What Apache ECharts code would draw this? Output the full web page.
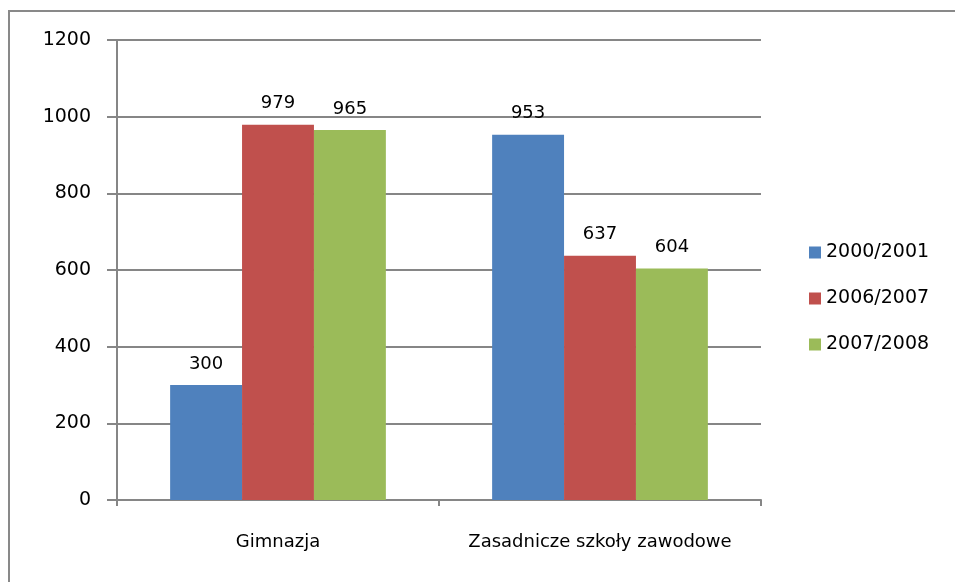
<!DOCTYPE html>
<html>
<head>
<meta charset="utf-8">
<script src="https://cdn.jsdelivr.net/npm/echarts@6/dist/echarts.min.js"></script>
<style>
  html, body { margin: 0; padding: 0; background: #fff; }
  #chart { width: 955px; height: 582px; }
</style>
</head>
<body>
<div id="chart"></div>
<script>
  var categories = ['Gimnazja', 'Zasadnicze szkoły zawodowe'];
  var seriesNames = ['2000/2001', '2006/2007', '2007/2008'];
  var values2000 = [300, 953];
  var values2006 = [979, 637];
  var values2007 = [965, 604];
  var colors = ['#4F81BD', '#C0504D', '#9BBB59'];

  var font = 'DejaVu Sans';
  var chart = echarts.init(document.getElementById('chart'));

  function barSeries(name, data, color) {
    return {
      name: name,
      type: 'bar',
      data: data,
      barGap: '0%',
      barCategoryGap: '33%',
      itemStyle: { color: color },
      label: {
        show: true,
        position: 'top',
        distance: 12,
        color: '#000',
        fontFamily: font,
        fontSize: 18
      }
    };
  }

  chart.setOption({
    animation: false,
    backgroundColor: '#fff',
    graphic: [{
      type: 'rect',
      shape: { x: 9, y: 11, width: 1000, height: 1000 },
      style: { fill: 'none', stroke: '#898989', lineWidth: 2 }
    }],
    grid: { left: 117, top: 40, width: 644, height: 460 },
    legend: {
      orient: 'vertical',
      left: 804,
      top: 238,
      itemWidth: 12,
      itemHeight: 12,
      itemGap: 27,
      icon: 'rect',
      data: seriesNames,
      textStyle: { fontFamily: font, fontSize: 19, color: '#000' }
    },
    xAxis: {
      type: 'category',
      data: categories,
      axisLine: { lineStyle: { color: '#868686', width: 2 } },
      axisTick: { show: true, length: 6, lineStyle: { color: '#868686', width: 2 } },
      axisLabel: { interval: 0, margin: 33, color: '#000', fontFamily: font, fontSize: 18 }
    },
    yAxis: {
      type: 'value',
      min: 0,
      max: 1200,
      interval: 200,
      axisLine: { show: true, lineStyle: { color: '#868686', width: 2 } },
      axisTick: { show: true, length: 10, lineStyle: { color: '#868686', width: 2 } },
      splitLine: { lineStyle: { color: '#868686', width: 2 } },
      axisLabel: {
        margin: 26, color: '#000', fontFamily: font, fontSize: 19,
        formatter: function (v) { return String(v); }
      }
    },
    series: [
      barSeries(seriesNames[0], values2000, colors[0]),
      barSeries(seriesNames[1], values2006, colors[1]),
      barSeries(seriesNames[2], values2007, colors[2])
    ]
  });
</script>
</body>
</html>
